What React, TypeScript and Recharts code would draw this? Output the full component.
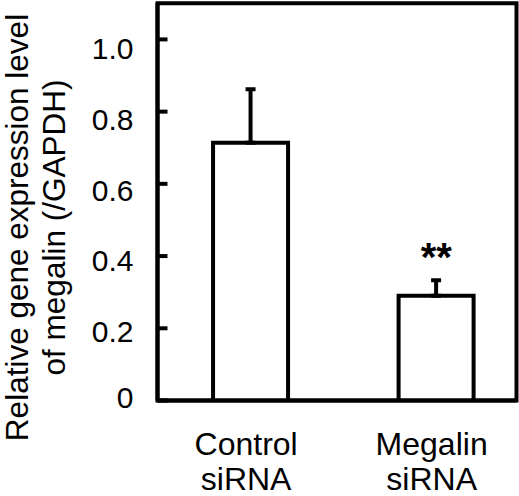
import React from 'react';
import {
  BarChart,
  Bar,
  XAxis,
  YAxis,
  ErrorBar,
  ReferenceArea,
  ReferenceDot,
  Label,
} from 'recharts';

// values
const categoryLines = [
  ['Control', 'siRNA'],
  ['Megalin', 'siRNA'],
];
const positions = [1, 2];
const means = [0.714, 0.29];
const sems = [0.148, 0.043];
const significance = ['', '**'];
const yTicks = [0, 0.2, 0.4, 0.6, 0.8, 1.0];
const yTickLabels = ['0', '0.2', '0.4', '0.6', '0.8', '1.0'];
const yTitleLines = ['Relative gene expression level', 'of megalin (/GAPDH)'];

const xDomain = [0.497, 2.432];
const yDomain = [0, 1.1];
const FONT = '"Liberation Sans", Arial, Helvetica, sans-serif';

const data = positions.map((pos, i) => ({
  pos,
  mean: means[i],
  err: [0, sems[i]],
}));

function YTick(props: any) {
  const { x, y, payload } = props;
  const v = payload.value;
  const idx = yTicks.indexOf(v);
  // labels sit a little below their tick marks in the original
  const shift = v === 0 ? -3.5 : 1.6 + 7.8 * v;
  return (
    <g>
      <line x1={x} x2={x + 10} y1={y} y2={y} stroke="#000" strokeWidth={4} />
      <text
        x={x - 24}
        y={y + shift + 10.6}
        textAnchor="end"
        fontFamily={FONT}
        fontSize={30}
        fill="#000"
      >
        {idx >= 0 ? yTickLabels[idx] : v}
      </text>
    </g>
  );
}

function XTick(props: any) {
  const { x, y, payload } = props;
  const i = positions.indexOf(payload.value);
  const lines = i >= 0 ? categoryLines[i] : [];
  return (
    <text x={x - 4.7} y={y} textAnchor="middle" fontFamily={FONT} fontSize={32} fill="#000">
      <tspan x={x - 4.7} dy={54.5}>{lines[0]}</tspan>
      <tspan x={x - 4.7} dy={35}>{lines[1]}</tspan>
    </text>
  );
}

function YTitle() {
  return (
    <g>
      {yTitleLines.map((t, i) => (
        <text
          key={t}
          x={27.5 + i * 37}
          y={227.5}
          transform={`rotate(-90 ${27.5 + i * 37} 227.5)`}
          textAnchor="middle"
          fontFamily={FONT}
          fontSize={31.5}
          fill="#000"
        >
          {t}
        </text>
      ))}
    </g>
  );
}

export default function App() {
  return (
    <div style={{ position: 'absolute', left: 0, top: 0, background: '#fff' }}>
      <BarChart
        width={519}
        height={496}
        data={data}
        margin={{ top: 3.3, right: 2.5, bottom: 0, left: 0 }}
      >
        <XAxis
          type="number"
          dataKey="pos"
          domain={xDomain}
          ticks={positions}
          interval={0}
          allowDataOverflow
          height={95.5}
          tickSize={0}
          tickMargin={0}
          tickLine={false}
          axisLine={{ stroke: '#000', strokeWidth: 4 }}
          tick={XTick}
        />
        <YAxis
          type="number"
          domain={yDomain}
          ticks={yTicks}
          interval={0}
          allowDataOverflow
          width={157.5}
          tickSize={0}
          tickMargin={0}
          tickLine={false}
          axisLine={{ stroke: '#000', strokeWidth: 4 }}
          tick={YTick}
        >
          <Label content={<YTitle />} />
        </YAxis>
        <ReferenceArea
          x1={xDomain[0]}
          x2={xDomain[1]}
          y1={yDomain[0]}
          y2={yDomain[1]}
          fill="none"
          fillOpacity={0}
          stroke="#000"
          strokeWidth={4}
          ifOverflow="visible"
        />
        <Bar
          dataKey="mean"
          barSize={75}
          fill="#fff"
          stroke="#000"
          strokeWidth={4}
          isAnimationActive={false}
        >
          <ErrorBar dataKey="err" width={5} stroke="#000" strokeWidth={4} direction="y" />
        </Bar>
        {significance.map((s, i) =>
          s ? (
            <ReferenceDot
              key={i}
              x={positions[i]}
              y={means[i] + sems[i]}
              r={0}
              fill="none"
              stroke="none"
              ifOverflow="visible"
            >
              <Label value={s} position="top" offset={9} fontSize={40} fontWeight="bold" fontFamily={FONT} fill="#000" />
            </ReferenceDot>
          ) : null
        )}
      </BarChart>
    </div>
  );
}
